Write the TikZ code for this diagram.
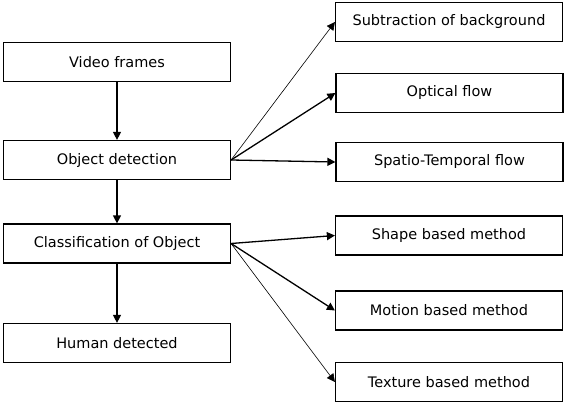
\documentclass[tikz,border=0pt]{standalone}
\usepackage{fontspec}
\setmainfont{DejaVu Sans}
\usetikzlibrary{arrows.meta}
\begin{document}
\begin{tikzpicture}[
  x=1pt, y=-1pt,
  every node/.style={draw, line width=1.2pt, minimum width=227pt, minimum height=39pt, inner sep=0pt, font=\fontsize{14.5}{16}\selectfont},
  arrow/.style={-{Triangle[length=8pt, width=8pt]}, line width=1.3pt},
  thinarrow/.style={-{Triangle[length=8pt, width=8pt]}, line width=0.6pt}
]
\useasboundingbox (0,0) rectangle (566,404);
% left column
\node (a) at (117,62) {Video frames};
\node (b) at (117,160) {Object detection};
\node (c) at (117,243.5) {Classification of Object};
\node (d) at (117,343) {Human detected};
% right column
\node (e) at (449,22) {Subtraction of background};
\node (f) at (449.5,93) {Optical flow};
\node (g) at (449.5,162) {Spatio-Temporal flow};
\node (h) at (449,235.5) {Shape based method};
\node (i) at (449,310.5) {Motion based method};
\node (j) at (449,382) {Texture based method};
\draw[arrow] (a) -- (b);
\draw[arrow] (b) -- (c);
\draw[arrow] (c) -- (d);
\draw[thinarrow] (b.east) -- (e.west);
\draw[arrow] (b.east) -- (f.west);
\draw[arrow] (b.east) -- (g.west);
\draw[arrow] (c.east) -- (h.west);
\draw[arrow] (c.east) -- (i.west);
\draw[thinarrow] (c.east) -- (j.west);
\end{tikzpicture}
\end{document}
